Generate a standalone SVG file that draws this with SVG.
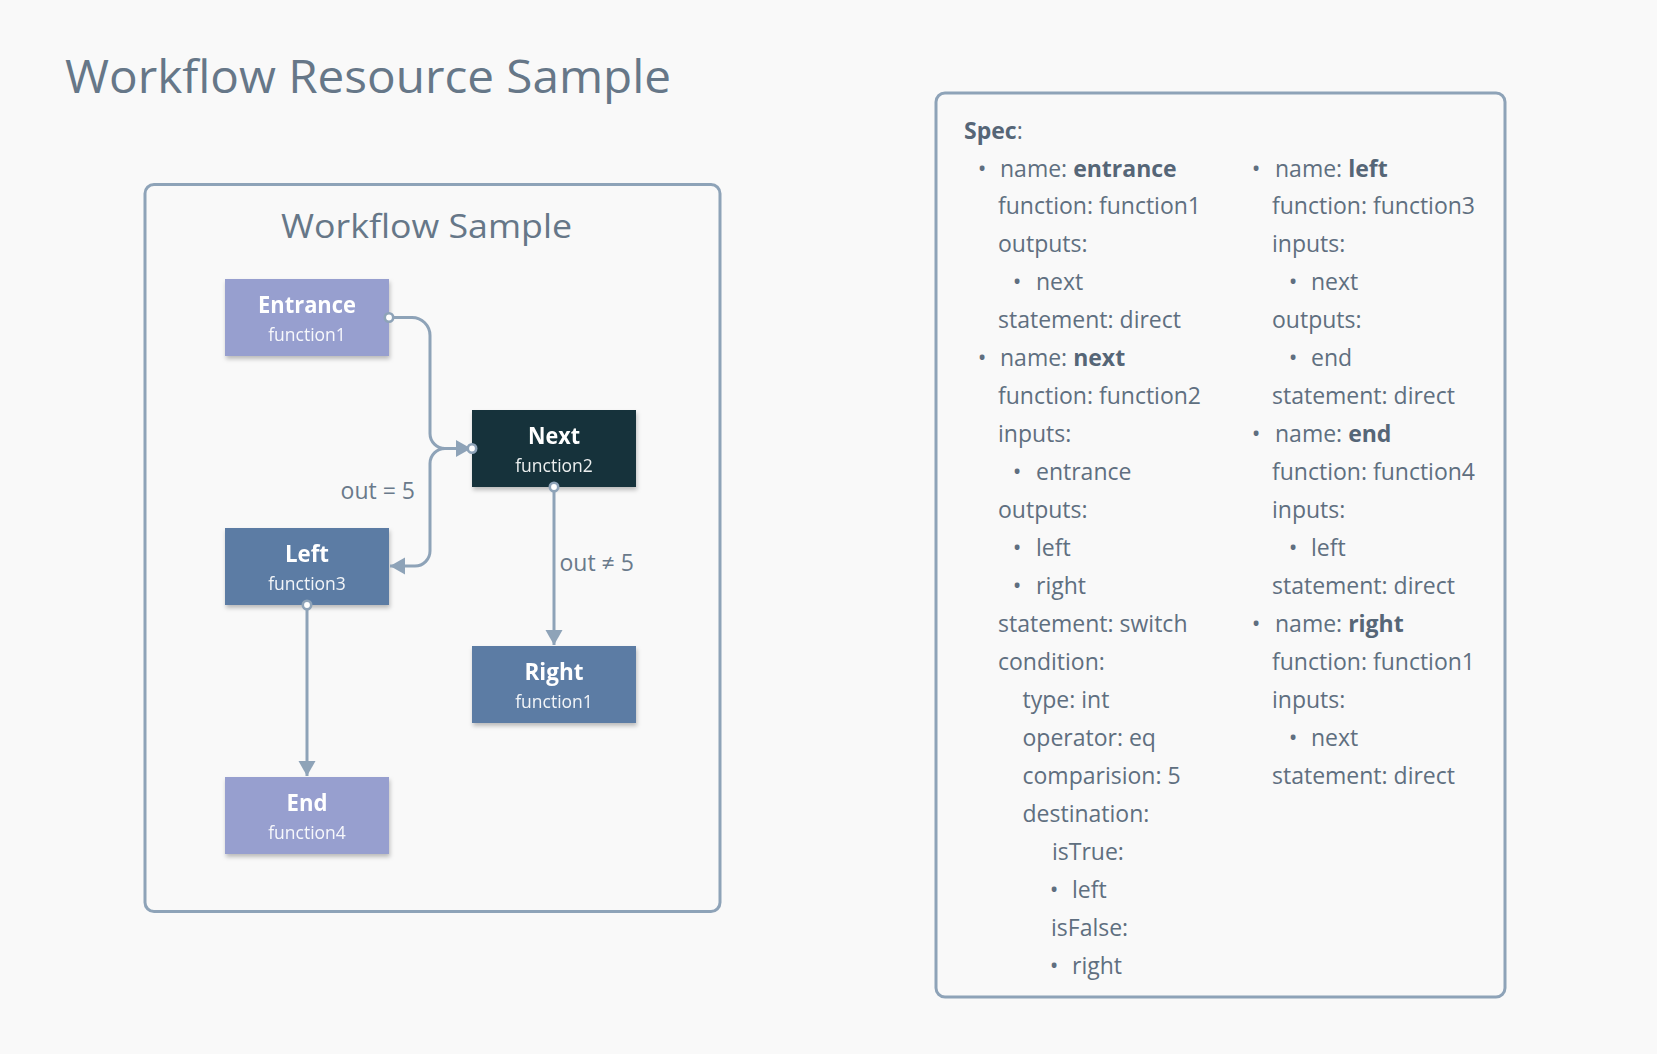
<svg xmlns="http://www.w3.org/2000/svg" width="1657" height="1054" viewBox="0 0 1657 1054">
<defs>
<style>
.bg{fill:#f9f9f9}
.ttl{font-family:'Open Sans','Liberation Sans',sans-serif;fill:#667788}
.frame{fill:none;stroke:#8ea3b8;stroke-width:3}
.nt{font-family:'Open Sans','Liberation Sans',sans-serif;font-weight:700;font-size:23px;fill:#ffffff;text-anchor:middle}
.ns{font-family:'Open Sans','Liberation Sans',sans-serif;font-size:17.5px;fill:#ffffff;fill-opacity:.92;text-anchor:middle}
.lav{fill:#979fcf}
.dark{fill:#15323a}
.blue{fill:#5c7ca4}
.edge{fill:none;stroke:#8ea3b8;stroke-width:3}
.port{fill:#ffffff;stroke:#8ea3b8;stroke-width:2.6}
.lbl{font-family:'Open Sans','Liberation Sans',sans-serif;font-size:23px;fill:#6a7a8b}
.spec{font-family:'Open Sans','Liberation Sans',sans-serif;font-size:23px;fill:#5f6f80}
.b{font-weight:700;fill:#566677}
.dot{text-anchor:middle}
</style>
<filter id="sh" x="-10%" y="-10%" width="125%" height="140%">
<feDropShadow dx="1" dy="3" stdDeviation="2" flood-color="#000" flood-opacity="0.25"/>
</filter>
<marker id="arr" markerUnits="userSpaceOnUse" markerWidth="16" markerHeight="18" refX="15" refY="8.5" orient="auto">
<path d="M0,0 L15,8.5 L0,17 z" fill="#8ea3b8"/>
</marker>
</defs>
<rect class="bg" x="0" y="0" width="1657" height="1054"/>

<text class="ttl" x="65" y="93" font-size="46" textLength="606" lengthAdjust="spacingAndGlyphs">Workflow Resource Sample</text>

<g id="workflow-frame">
<rect class="frame" x="145" y="184.5" width="575" height="727" rx="9"/>
<text class="ttl" x="281" y="238" font-size="33" textLength="291" lengthAdjust="spacingAndGlyphs">Workflow Sample</text>
</g>

<g id="node-entrance" filter="url(#sh)">
<rect class="lav" x="225" y="279" width="164" height="77"/>
<text class="nt" x="307" y="313.3" textLength="98" lengthAdjust="spacingAndGlyphs">Entrance</text>
<text class="ns" x="307" y="341">function1</text>
</g>
<g id="node-next" filter="url(#sh)">
<rect class="dark" x="472" y="410" width="164" height="77"/>
<text class="nt" x="554" y="444.3" textLength="52" lengthAdjust="spacingAndGlyphs">Next</text>
<text class="ns" x="554" y="472">function2</text>
</g>
<g id="node-left" filter="url(#sh)">
<rect class="blue" x="225" y="528" width="164" height="77"/>
<text class="nt" x="307" y="562.3" textLength="44" lengthAdjust="spacingAndGlyphs">Left</text>
<text class="ns" x="307" y="590">function3</text>
</g>
<g id="node-right" filter="url(#sh)">
<rect class="blue" x="472" y="646" width="164" height="77"/>
<text class="nt" x="554" y="680.3" textLength="59" lengthAdjust="spacingAndGlyphs">Right</text>
<text class="ns" x="554" y="708">function1</text>
</g>
<g id="node-end" filter="url(#sh)">
<rect class="lav" x="225" y="777" width="164" height="77"/>
<text class="nt" x="307" y="811.3" textLength="41" lengthAdjust="spacingAndGlyphs">End</text>
<text class="ns" x="307" y="839">function4</text>
</g>

<g id="connectors">
<path class="edge" marker-end="url(#arr)" d="M389,317.5 H412 A18,18 0 0 1 430,335.5 V433.5 A15,15 0 0 0 445,448.5 H471"/>
<path class="edge" marker-end="url(#arr)" d="M472,448.5 H445 A15,15 0 0 0 430,463.5 V551 A15,15 0 0 1 415,566 H390"/>
<path class="edge" marker-end="url(#arr)" d="M554,487 V645"/>
<path class="edge" marker-end="url(#arr)" d="M307,605 V776"/>
<text class="lbl" x="415" y="499" text-anchor="end">out = 5</text>
<text class="lbl" x="559.5" y="571">out ≠ 5</text>
<circle class="port" cx="389" cy="317.5" r="4.2"/>
<circle class="port" cx="472" cy="448.5" r="4.2"/>
<circle class="port" cx="554" cy="487" r="4.2"/>
<circle class="port" cx="307" cy="605" r="4.2"/>
</g>

<g id="spec">
<rect class="frame" x="936" y="93" width="569" height="904" rx="9"/>
<g class="spec">
<text x="964" y="138.5"><tspan class="b">Spec</tspan>:</text>
<text class="dot" x="982" y="176.5">•</text><text x="1000" y="176.5">name: <tspan class="b">entrance</tspan></text>
<text x="998" y="214.4">function: function1</text>
<text x="998" y="252.4">outputs:</text>
<text class="dot" x="1017" y="290.4">•</text><text x="1036" y="290.4">next</text>
<text x="998" y="328.4">statement: direct</text>
<text class="dot" x="982" y="366.3">•</text><text x="1000" y="366.3">name: <tspan class="b">next</tspan></text>
<text x="998" y="404.3">function: function2</text>
<text x="998" y="442.3">inputs:</text>
<text class="dot" x="1017" y="480.2">•</text><text x="1036" y="480.2">entrance</text>
<text x="998" y="518.2">outputs:</text>
<text class="dot" x="1017" y="556.2">•</text><text x="1036" y="556.2">left</text>
<text class="dot" x="1017" y="594.1">•</text><text x="1036" y="594.1">right</text>
<text x="998" y="632.1">statement: switch</text>
<text x="998" y="670.1">condition:</text>
<text x="1022.5" y="708.1">type: int</text>
<text x="1022.5" y="746">operator: eq</text>
<text x="1022.5" y="784">comparision: 5</text>
<text x="1022.5" y="822">destination:</text>
<text x="1052" y="859.9">isTrue:</text>
<text class="dot" x="1054" y="897.9">•</text><text x="1072" y="897.9">left</text>
<text x="1051" y="935.9">isFalse:</text>
<text class="dot" x="1054" y="973.8">•</text><text x="1072" y="973.8">right</text>

<text class="dot" x="1256" y="176.5">•</text><text x="1275" y="176.5">name: <tspan class="b">left</tspan></text>
<text x="1272" y="214.4">function: function3</text>
<text x="1272" y="252.4">inputs:</text>
<text class="dot" x="1293" y="290.4">•</text><text x="1311" y="290.4">next</text>
<text x="1272" y="328.4">outputs:</text>
<text class="dot" x="1293" y="366.3">•</text><text x="1311" y="366.3">end</text>
<text x="1272" y="404.3">statement: direct</text>
<text class="dot" x="1256" y="442.3">•</text><text x="1275" y="442.3">name: <tspan class="b">end</tspan></text>
<text x="1272" y="480.2">function: function4</text>
<text x="1272" y="518.2">inputs:</text>
<text class="dot" x="1293" y="556.2">•</text><text x="1311" y="556.2">left</text>
<text x="1272" y="594.1">statement: direct</text>
<text class="dot" x="1256" y="632.1">•</text><text x="1275" y="632.1">name: <tspan class="b">right</tspan></text>
<text x="1272" y="670.1">function: function1</text>
<text x="1272" y="708.1">inputs:</text>
<text class="dot" x="1293" y="746">•</text><text x="1311" y="746">next</text>
<text x="1272" y="784">statement: direct</text>
</g>
</g>
</svg>
